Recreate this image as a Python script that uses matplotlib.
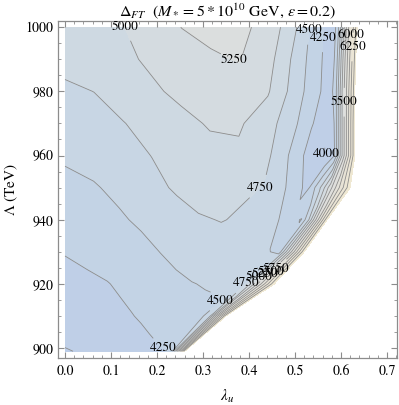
import numpy as np
import matplotlib
matplotlib.use("Agg")
import matplotlib.pyplot as plt
from matplotlib.colors import LinearSegmentedColormap, Normalize
from matplotlib.ticker import MultipleLocator, FormatStrFormatter

plt.rcParams["font.family"] = "STIXGeneral"
plt.rcParams["mathtext.fontset"] = "stix"

# rows of Lambda (TeV) and the right/lower edge of the allowed region on each row
LAMBDA_ROWS = [899, 910, 920, 930, 940, 950, 960, 970, 980, 990, 1000]
EDGE_X = [0.26, 0.35, 0.455, 0.52, 0.57, 0.62, 0.63, 0.63, 0.63, 0.632, 0.635]
# fraction of the edge at which each column sits
FRACTION = [0, 0.1, 0.2, 0.3, 0.4, 0.5, 0.6, 0.7, 0.8, 0.85, 0.9, 0.93, 0.96, 1.0]

# Delta_FT, one list per row
DELTA = [
    [3990, 4005, 4030, 4060, 4090, 4120, 4160, 4200, 4235, 4255, 4500, 5100, 5700, 6700],
    [4085, 4110, 4150, 4190, 4235, 4285, 4340, 4390, 4430, 4450, 4700, 5350, 5950, 6700],
    [4170, 4210, 4240, 4300, 4365, 4430, 4490, 4525, 4540, 4560, 5200, 5650, 6100, 6700],
    [4262, 4300, 4360, 4420, 4505, 4590, 4640, 4660, 4600, 4510, 4450, 5125, 5800, 6700],
    [4350, 4400, 4465, 4545, 4630, 4725, 4760, 4700, 4545, 4400, 4230, 4750, 5600, 6700],
    [4440, 4480, 4560, 4680, 4790, 4850, 4855, 4730, 4420, 4160, 4812, 5394, 5970, 6700],
    [4530, 4580, 4660, 4755, 4850, 4935, 4955, 4790, 4380, 4100, 3970, 4250, 5400, 6700],
    [4620, 4680, 4740, 4840, 4940, 5020, 5030, 4860, 4510, 4280, 4060, 4260, 5400, 6700],
    [4715, 4752, 4860, 4965, 5050, 5130, 5155, 5025, 4615, 4383, 4180, 4270, 5400, 6650],
    [4810, 4880, 4955, 5040, 5130, 5225, 5260, 5090, 4644, 4406, 4180, 4260, 5400, 6650],
    [4900, 4950, 4995, 5125, 5255, 5300, 5300, 5170, 4720, 4417, 4180, 4260, 5400, 6650],
]

LEVELS = np.arange(3750, 6751, 250)

# label level and where it sits
LABELS = [
    (5000, 0.122, 999.4), (5250, 0.363, 988.2), (4500, 0.546, 998.8),
    (4250, 0.559, 996.7), (6000, 0.622, 997.5), (6250, 0.630, 993.8),
    (5500, 0.617, 976.6), (4000, 0.567, 960.4), (4750, 0.433, 948.6),
    (4500, 0.337, 914.6), (4250, 0.224, 900.9), (4750, 0.397, 919.7),
    (5000, 0.423, 921.8), (5250, 0.438, 922.8), (5500, 0.450, 923.3),
    (5750, 0.464, 923.8),
]

lam = np.array(LAMBDA_ROWS, dtype=float)
X = np.outer(EDGE_X, FRACTION)
Y = np.repeat(lam[:, None], len(FRACTION), axis=1)
Z = np.array(DELTA, dtype=float)

cmap = LinearSegmentedColormap.from_list("mma", [
    (0.0, (0.73, 0.80, 0.91)),
    (0.3, (0.80, 0.85, 0.89)),
    (0.5, (0.86, 0.87, 0.87)),
    (0.75, (0.91, 0.89, 0.84)),
    (1.0, (0.95, 0.92, 0.82)),
])

fig = plt.figure(figsize=(3.99, 4.05), dpi=100)
ax = fig.add_axes([0.1454, 0.116, 0.8496, 0.832])

ax.contourf(X, Y, Z, levels=LEVELS, cmap=cmap, norm=Normalize(3900, 6900))
ax.set_xlim(-0.0152, 0.7217)
ax.set_ylim(896.9, 1001.9)

# one line set per level, so each label can be put on its own level
line_sets = {}
for lev in LEVELS[1:-1]:
    line_sets[int(lev)] = ax.contour(X, Y, Z, levels=[lev], colors="0.55",
                                     linewidths=0.6)

for lev, lx, ly in LABELS:
    cs = line_sets[lev]
    if len(cs.allsegs[0]) == 0:
        continue
    ax.clabel(cs, manual=[(lx, ly)], inline=True, inline_spacing=1,
              fmt="%d", fontsize=9.5, colors="k")
for cs in line_sets.values():
    for t in cs.labelTexts:
        t.set_rotation(0)

ax.xaxis.set_major_locator(MultipleLocator(0.1))
ax.xaxis.set_minor_locator(MultipleLocator(0.02))
ax.xaxis.set_major_formatter(FormatStrFormatter("%.1f"))
ax.yaxis.set_major_locator(MultipleLocator(20))
ax.yaxis.set_minor_locator(MultipleLocator(5))
ax.tick_params(which="both", direction="in", top=True, right=True, color="0.55",
               labelsize=10)
ax.tick_params(which="major", length=4.5, width=0.8)
ax.tick_params(which="minor", length=2.2, width=0.6)
ax.tick_params(axis="x", pad=5)
for sp in ax.spines.values():
    sp.set_color("0.55")
    sp.set_linewidth(0.9)

ax.set_xlabel(r"$\lambda_u$", fontsize=11, labelpad=7)
ax.set_ylabel(r"$\Lambda$ (TeV)", fontsize=11, labelpad=4)
ax.set_title(r"$\Delta_{FT}\ \ (M_* = 5 * 10^{10}$ GeV, $\epsilon = 0.2)$",
             fontsize=11.5, pad=3)

fig.savefig("out.png", dpi=100)
